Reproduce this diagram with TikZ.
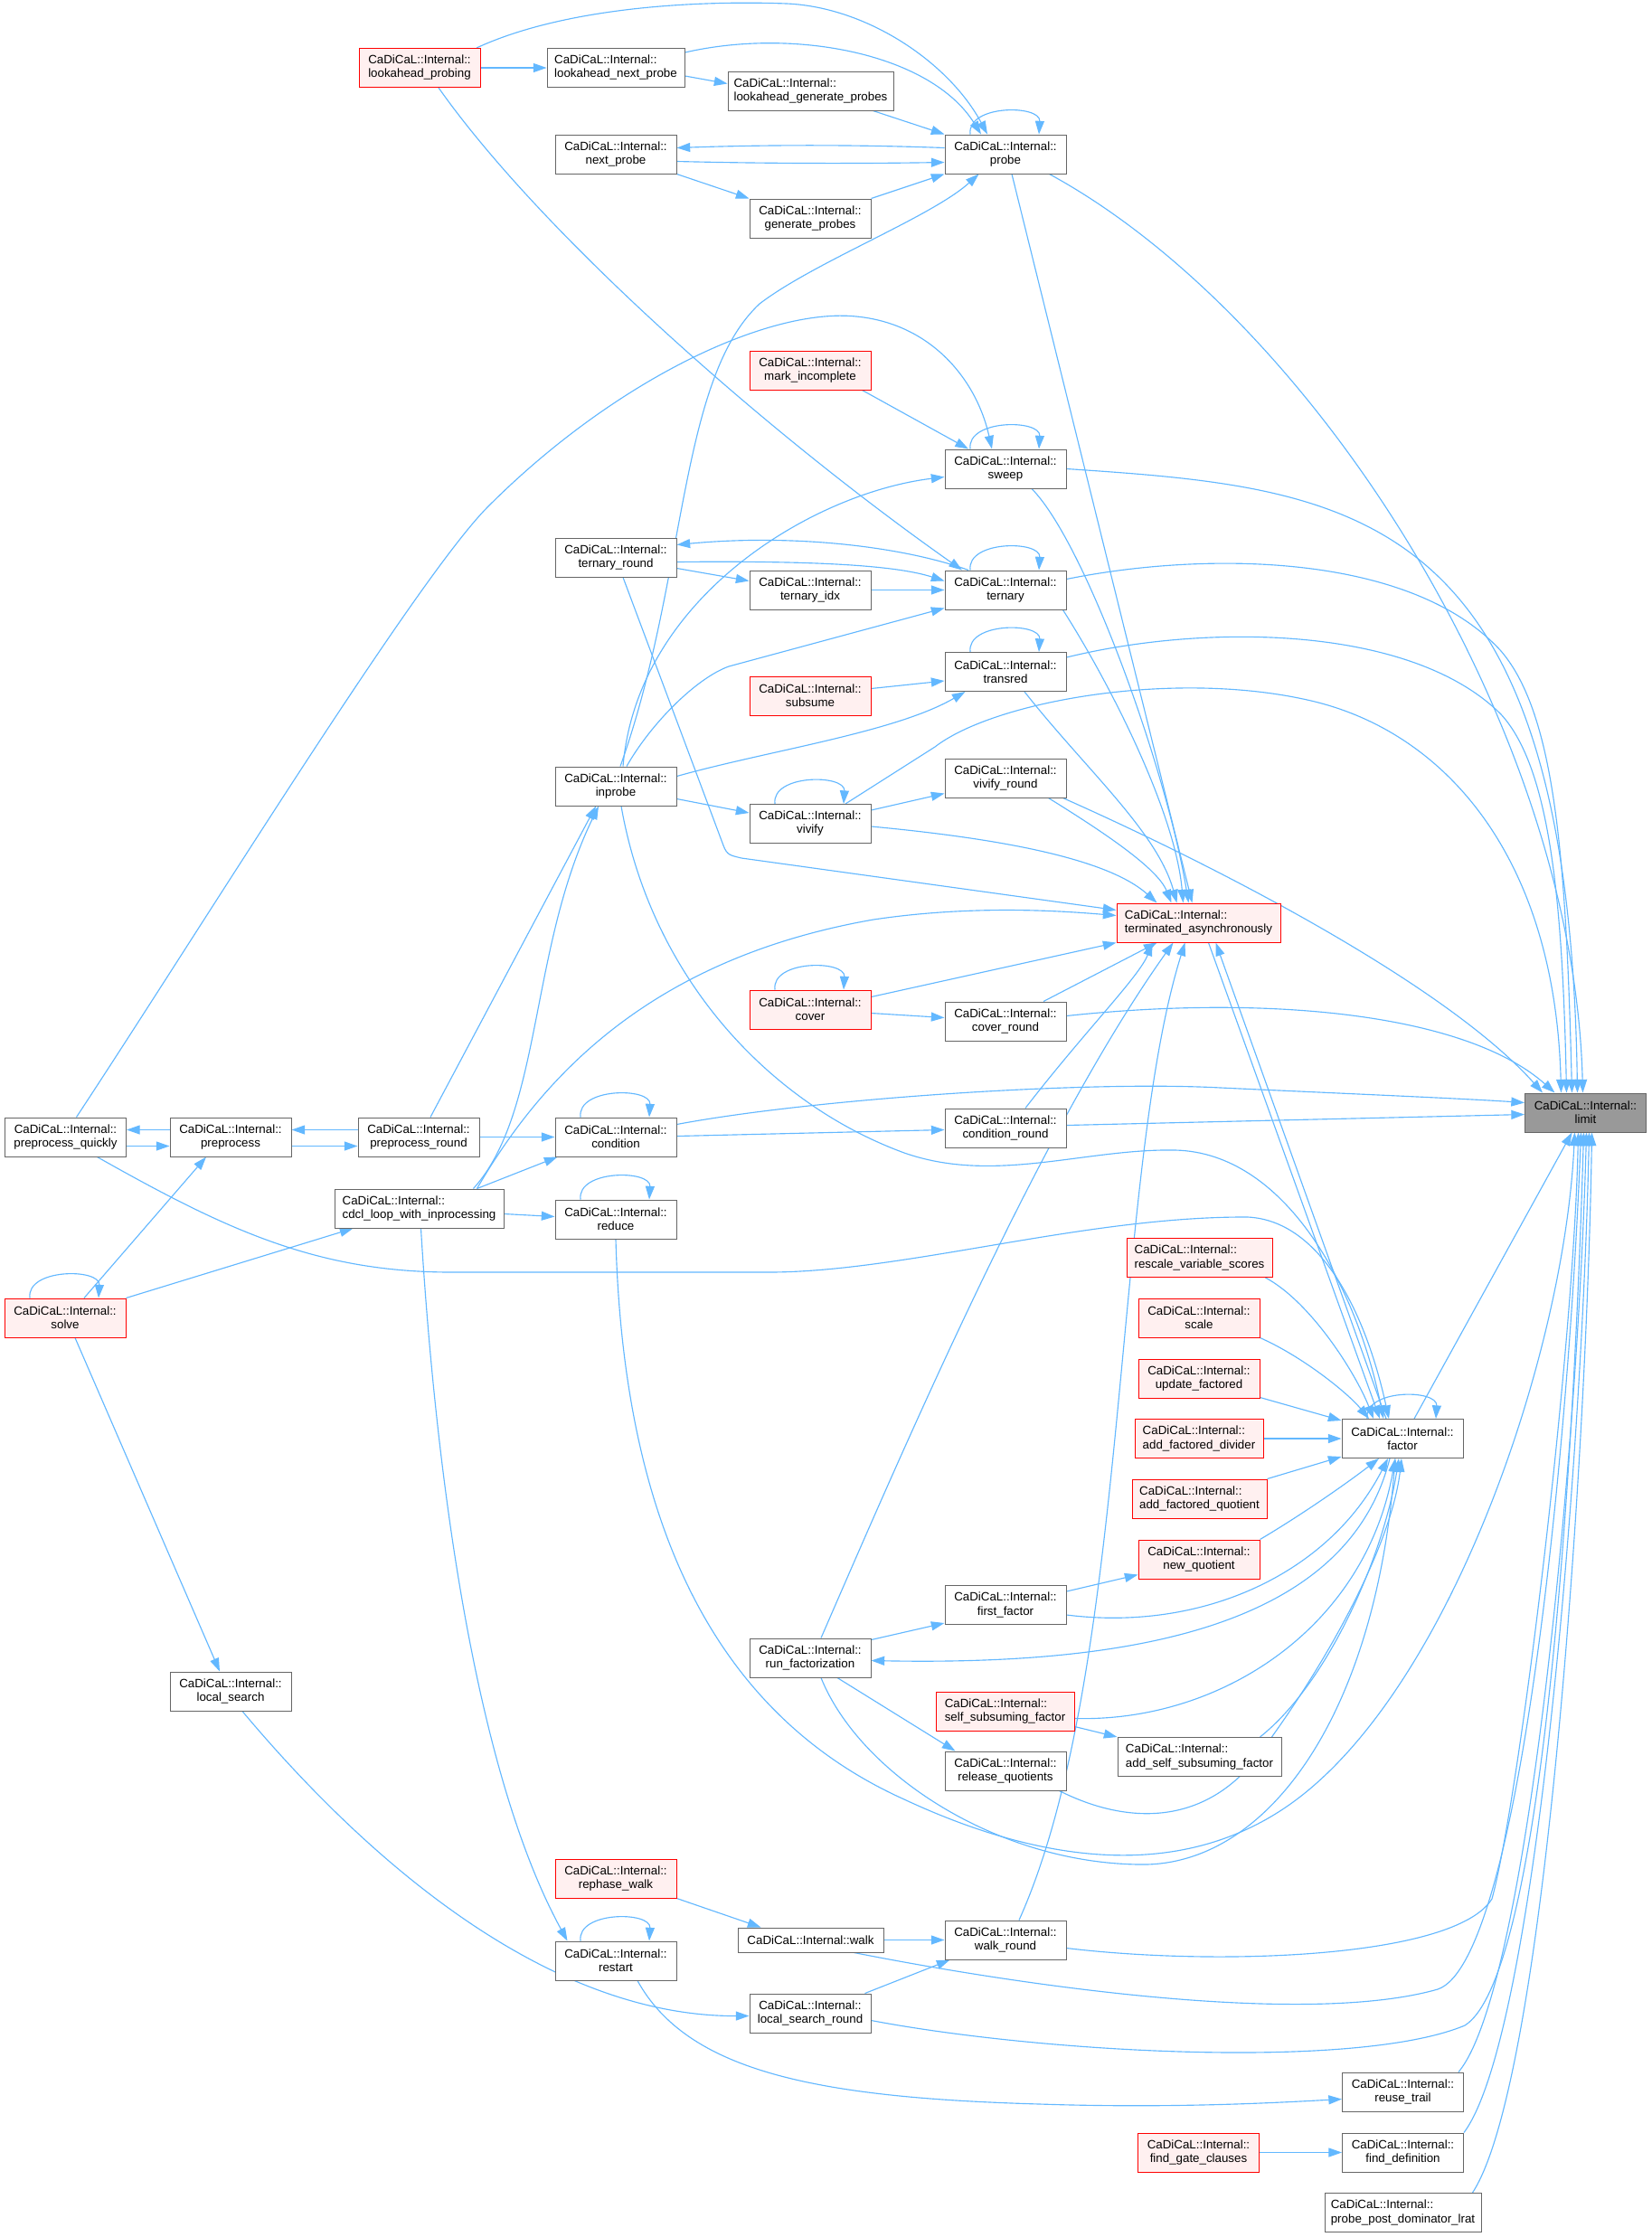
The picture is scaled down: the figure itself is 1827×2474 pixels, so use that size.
\documentclass[tikz,border=0pt]{standalone}
\usepackage{fontspec}
\setmainfont{Liberation Sans}
\usetikzlibrary{arrows.meta,calc}
\definecolor{edgeblue}{HTML}{63B8FF}
\definecolor{ndgray}{HTML}{666666}
\definecolor{redfill}{HTML}{FFF0F0}
\definecolor{limitfill}{HTML}{999999}
\pgfdeclarelayer{bg}
\pgfsetlayers{bg,main}
\tikzset{
  nd/.style={draw=ndgray, fill=white, line width=0.75pt, minimum width=100.5pt, minimum height=32.25pt,
    inner xsep=2pt, inner ysep=1pt, align=center, font=\fontsize{10}{11.3}\selectfont},
  rd/.style={nd, draw=red, fill=redfill},
  nl/.style={align=left},
  cedge/.style={draw=edgeblue, line width=0.85pt, -{Triangle[length=11pt,width=7.5pt]}}
}
\newcommand\loopon[1]{\draw[cedge] ($(#1.north)+(-39,0)$) .. controls +(-4,-33) and +(2,-33) .. ($(#1.north)+(37,0)$);}
\begin{document}
\begin{tikzpicture}[x=0.75pt,y=-0.75pt]
\useasboundingbox (0,0) rectangle (1827,2474);
% nodes
\node[rd] (lp) at (464,75) {CaDiCaL::Internal::\\lookahead\_probing};
\node[nd,minimum width=114pt,nl] (lnp) at (681,75) {CaDiCaL::Internal::\\lookahead\_next\_probe};
\node[nd,minimum width=137.25pt,nl] (lgp) at (896.5,100.5) {CaDiCaL::Internal::\\lookahead\_generate\_probes};
\node[nd] (np) at (681,170.5) {CaDiCaL::Internal::\\next\_probe};
\node[nd] (probe) at (1112,170.5) {CaDiCaL::Internal::\\probe};
\node[nd] (gp) at (896,241.5) {CaDiCaL::Internal::\\generate\_probes};
\node[rd] (mi) at (896,409.5) {CaDiCaL::Internal::\\mark\_incomplete};
\node[nd] (sweep) at (1112,518.5) {CaDiCaL::Internal::\\sweep};
\node[nd] (tr) at (681,616.5) {CaDiCaL::Internal::\\ternary\_round};
\node[nd] (tidx) at (896,652.5) {CaDiCaL::Internal::\\ternary\_idx};
\node[nd] (tern) at (1112,652.5) {CaDiCaL::Internal::\\ternary};
\node[nd] (trans) at (1112,743) {CaDiCaL::Internal::\\transred};
\node[rd] (subs) at (896,769.5) {CaDiCaL::Internal::\\subsume};
\node[nd] (inp) at (681,869.5) {CaDiCaL::Internal::\\inprobe};
\node[nd] (viv) at (896,911) {CaDiCaL::Internal::\\vivify};
\node[nd] (vivr) at (1112,860.5) {CaDiCaL::Internal::\\vivify\_round};
\node[rd,minimum width=135.75pt,nl] (ta) at (1325.5,1020.5) {CaDiCaL::Internal::\\terminated\_asynchronously};
\node[rd] (cov) at (896,1116.5) {CaDiCaL::Internal::\\cover};
\node[nd] (covr) at (1112,1129.5) {CaDiCaL::Internal::\\cover\_round};
\node[nd,fill=limitfill] (limit) at (1753.5,1230.5) {CaDiCaL::Internal::\\limit};
\node[nd] (ppq) at (72.5,1257.5) {CaDiCaL::Internal::\\preprocess\_quickly};
\node[nd] (pp) at (255,1257.5) {CaDiCaL::Internal::\\preprocess};
\node[nd] (ppr) at (463,1257.5) {CaDiCaL::Internal::\\preprocess\_round};
\node[nd] (cond) at (681,1257.5) {CaDiCaL::Internal::\\condition};
\node[nd] (condr) at (1112,1247.5) {CaDiCaL::Internal::\\condition\_round};
\node[nd,minimum width=140.25pt,nl] (cdcl) at (463.5,1336.5) {CaDiCaL::Internal::\\cdcl\_loop\_with\_inprocessing};
\node[nd] (red) at (681,1348.5) {CaDiCaL::Internal::\\reduce};
\node[rd] (solve) at (72,1457.5) {CaDiCaL::Internal::\\solve};
\node[rd,minimum width=120.75pt,nl] (rvs) at (1326.5,1391) {CaDiCaL::Internal::\\rescale\_variable\_scores};
\node[rd] (scale) at (1326,1457.5) {CaDiCaL::Internal::\\scale};
\node[rd] (uf) at (1326,1524.5) {CaDiCaL::Internal::\\update\_factored};
\node[rd,minimum width=106.5pt,nl] (afd) at (1326,1591) {CaDiCaL::Internal::\\add\_factored\_divider};
\node[nd] (factor) at (1551,1591) {CaDiCaL::Internal::\\factor};
\node[rd,minimum width=111.75pt,nl] (afq) at (1326.5,1657.5) {CaDiCaL::Internal::\\add\_factored\_quotient};
\node[rd] (nq) at (1326,1724.5) {CaDiCaL::Internal::\\new\_quotient};
\node[nd] (ff) at (1112,1775) {CaDiCaL::Internal::\\first\_factor};
\node[nd] (rf) at (896,1833.5) {CaDiCaL::Internal::\\run\_factorization};
\node[nd] (ls) at (255,1870.5) {CaDiCaL::Internal::\\local\_search};
\node[rd,minimum width=114.75pt,nl] (ssf) at (1111.5,1892.5) {CaDiCaL::Internal::\\self\_subsuming\_factor};
\node[nd,minimum width=135.75pt,nl] (assf) at (1326.5,1943) {CaDiCaL::Internal::\\add\_self\_subsuming\_factor};
\node[nd] (rq) at (1112,1958.5) {CaDiCaL::Internal::\\release\_quotients};
\node[rd] (rw) at (681,2077.5) {CaDiCaL::Internal::\\rephase\_walk};
\node[nd,minimum width=120.75pt,minimum height=20.25pt] (walk) at (896.5,2145.5) {CaDiCaL::Internal::walk};
\node[nd] (wr) at (1112,2145.5) {CaDiCaL::Internal::\\walk\_round};
\node[nd] (rst) at (681,2168.5) {CaDiCaL::Internal::\\restart};
\node[nd] (lsr) at (896,2226.5) {CaDiCaL::Internal::\\local\_search\_round};
\node[nd] (rt) at (1551.5,2313.5) {CaDiCaL::Internal::\\reuse\_trail};
\node[rd] (fgc) at (1325.5,2380.5) {CaDiCaL::Internal::\\find\_gate\_clauses};
\node[nd] (fd) at (1551.5,2380.5) {CaDiCaL::Internal::\\find\_definition};
\node[nd,minimum width=129.75pt,nl] (ppdl) at (1551.5,2447) {CaDiCaL::Internal::\\probe\_post\_dominator\_lrat};

\begin{pgfonlayer}{bg}
\fill[white] (0,0) rectangle (1827,2474);
% top
\draw[cedge] (lp.east) -- (lnp.west);
\draw[cedge] ($(lnp.east)+(0,9)$) -- ($(lgp.west)+(0,-8)$);
\draw[cedge] ($(lnp.north east)+(0,5)$) .. controls (880,30) and (1030,60) .. ($(probe.north)+(-27,0)$);
\draw[cedge] ($(lp.north)+(63,0)$) .. controls (620,10) and (760,0) .. (870,4) .. controls (960,8) and (1050,70) .. ($(probe.north)+(-20,0)$);
\draw[cedge] ($(lgp.south)+(69,0)$) -- (probe.north west);
\draw[cedge] ($(probe.west)+(0,-7)$) .. controls (950,160) and (850,160) .. ($(np.east)+(0,-7)$);
\draw[cedge] ($(np.east)+(0,8)$) .. controls (850,181) and (950,181) .. ($(probe.west)+(0,9)$);
\draw[cedge] (np.south east) -- (gp.north west);
\draw[cedge] (gp.north east) -- (probe.south west);
\loopon{probe}
\draw[cedge] ($(probe.south east)+(-19,0)$) .. controls (1450,350) and (1740,800) .. ($(limit.north)+(-3,0)$);
\draw[cedge] ($(probe.south)+(7,0)$) -- ($(ta.north)+(-7,0)$);
% sweep
\draw[cedge] ($(mi.south east)+(-10,0)$) -- ($(sweep.north)+(-41,0)$);
\draw[cedge] ($(ppq.north)+(12,0)$) .. controls (220,1030) and (460,640) .. (540,560) .. controls (680,420) and (850,340) .. (947,350) .. controls (1030,358) and (1080,420) .. ($(sweep.north)+(-15,0)$);
\loopon{sweep}
\draw[cedge] ($(inp.north)+(8,0)$) .. controls (705,660) and (900,545) .. ($(sweep.west)+(0,9)$);
\draw[cedge] (sweep.east) .. controls (1500,540) and (1735,560) .. ($(limit.north)+(-9,0)$);
\draw[cedge] ($(sweep.south)+(29,0)$) .. controls (1200,600) and (1290,850) .. ($(ta.north)+(-11,0)$);
% ternary
\draw[cedge] ($(tern.north)+(-41,0)$) .. controls (1000,605) and (880,590) .. ($(tr.east)+(0,-14)$);
\draw[cedge] ($(tr.east)+(0,5)$) .. controls (900,620) and (990,625) .. ($(tern.west)+(0,-10)$);
\draw[cedge] ($(tr.east)+(0,12)$) -- ($(tidx.west)+(0,-10)$);
\draw[cedge] (tidx.east) -- (tern.west);
\draw[cedge] ($(inp.north)+(12,0)$) .. controls (720,800) and (770,750) .. (806,737) -- ($(tern.south west)+(0,-2)$);
\draw[cedge] ($(lp.south)+(21,0)$) .. controls (600,260) and (850,480) .. ($(tern.north)+(-48,0)$);
\loopon{tern}
\draw[cedge] ($(tern.east)+(0,-12)$) .. controls (1330,610) and (1560,610) .. (1660,720) .. controls (1720,790) and (1732,950) .. ($(limit.north)+(-15,0)$);
\draw[cedge] ($(tern.south east)+(-4,0)$) .. controls (1230,760) and (1300,900) .. ($(ta.north)+(-17,0)$);
% transred
\loopon{trans}
\draw[cedge] ($(subs.east)+(0,-8)$) -- ($(trans.west)+(0,10)$);
\draw[cedge] ($(inp.east)+(0,-11)$) .. controls (850,830) and (990,810) .. ($(trans.south west)+(23,0)$);
\draw[cedge] ($(trans.east)+(0,-16)$) .. controls (1330,690) and (1560,690) .. (1660,790) .. controls (1715,850) and (1728,1000) .. ($(limit.north)+(-21,0)$);
\draw[cedge] ($(trans.south)+(21,0)$) .. controls (1200,850) and (1280,920) .. ($(ta.north)+(-24,0)$);
% vivify
\loopon{viv}
\draw[cedge] ($(inp.east)+(0,14)$) -- ($(viv.west)+(0,-12)$);
\draw[cedge] ($(viv.east)+(0,-15)$) -- ($(vivr.west)+(0,17)$);
\draw[cedge] ($(viv.east)+(0,3)$) .. controls (1080,925) and (1220,945) .. ($(ta.north)+(-46,0)$);
\draw[cedge] ($(viv.north)+(39,0)$) -- (1034,826) .. controls (1100,775) and (1300,740) .. (1450,775) .. controls (1600,810) and (1720,950) .. ($(limit.north)+(-27,0)$);
\draw[cedge] ($(vivr.south east)+(-4,0)$) .. controls (1350,960) and (1600,1090) .. ($(limit.north west)+(20,0)$);
\draw[cedge] ($(vivr.south east)+(-20,0)$) .. controls (1220,920) and (1280,960) .. ($(ta.north)+(-30,0)$);
% terminated_asynchronously
\draw[cedge] ($(tr.south)+(8,0)$) -- (800,935) .. controls (804,946) and (808,946) .. (820,949) -- ($(ta.west)+(0,-14)$);
\draw[cedge] ($(cdcl.north east)+(-30,0)$) .. controls (600,1190) and (720,1060) .. (966,1017) .. controls (1080,1000) and (1180,1008) .. ($(ta.west)+(0,-8)$);
\draw[cedge] ($(cov.east)+(0,-14)$) -- (ta.south west);
\draw[cedge] ($(covr.north)+(42,0)$) -- ($(ta.south)+(-46,0)$);
\draw[cedge] ($(condr.north)+(22,0)$) .. controls (1200,1140) and (1260,1080) .. ($(ta.south)+(-51,0)$);
\draw[cedge] ($(rf.north)+(12,0)$) .. controls (1000,1600) and (1150,1250) .. ($(ta.south)+(-28,0)$);
\draw[cedge] ($(wr.north)+(15,0)$) .. controls (1250,1850) and (1230,1300) .. ($(ta.south)+(-15,0)$);
\draw[cedge] ($(ta.south)+(11,0)$) -- ($(factor.north)+(-25,0)$);
\draw[cedge] ($(factor.north)+(-18,0)$) -- ($(ta.south)+(19,0)$);
% cover
\loopon{cov}
\draw[cedge] ($(cov.east)+(0,4)$) -- ($(covr.west)+(0,-4)$);
\draw[cedge] ($(covr.east)+(0,-6)$) .. controls (1400,1100) and (1620,1120) .. ($(limit.north)+(-34,0)$);
% condition
\loopon{cond}
\draw[cedge] (ppr.east) -- (cond.west);
\draw[cedge] ($(cdcl.north east)+(-30,0)$) -- ($(cond.south west)+(3,0)$);
\draw[cedge] ($(cond.east)+(0,-1)$) -- ($(condr.west)+(0,2)$);
\draw[cedge] ($(cond.east)+(0,-14)$) .. controls (900,1215) and (1200,1195) .. (1350,1203) .. controls (1500,1210) and (1620,1215) .. ($(limit.west)+(0,-11)$);
\draw[cedge] ($(condr.east)+(0,-3)$) -- ($(limit.west)+(0,2)$);
% preprocess
\draw[cedge] ($(pp.west)+(0,-8)$) -- ($(ppq.east)+(0,-8)$);
\draw[cedge] ($(ppq.east)+(0,10)$) -- ($(pp.west)+(0,10)$);
\draw[cedge] ($(ppr.west)+(0,-8)$) -- ($(pp.east)+(0,-8)$);
\draw[cedge] ($(pp.east)+(0,10)$) -- ($(ppr.west)+(0,10)$);
\draw[cedge] ($(solve.north)+(21,0)$) -- ($(pp.south)+(-27,0)$);
\loopon{solve}
\draw[cedge] (solve.north east) -- ($(cdcl.south west)+(21,0)$);
\draw[cedge] ($(solve.south)+(11,0)$) -- ($(ls.north)+(-12,0)$);
\draw[cedge] ($(ppq.south)+(35,0)$) .. controls (250,1360) and (350,1407) .. (500,1407) -- (850,1407) .. controls (1000,1407) and (1200,1345) .. (1380,1346) .. controls (1460,1350) and (1510,1450) .. ($(factor.north)+(-15,0)$);
\draw[cedge] ($(inp.south)+(6,0)$) .. controls (720,1080) and (850,1220) .. (1000,1275) .. controls (1100,1310) and (1200,1270) .. (1300,1272) .. controls (1420,1275) and (1500,1420) .. ($(factor.north)+(-21,0)$);
\draw[cedge] ($(cdcl.north east)+(-34,0)$) .. controls (600,1230) and (585,1050) .. ($(inp.south)+(-19,0)$);
\draw[cedge] ($(ppr.north)+(13,0)$) -- ($(inp.south)+(-22,0)$);
\draw[cedge] ($(inp.north)+(5,0)$) .. controls (760,640) and (750,420) .. (840,336) .. controls (900,290) and (1030,240) .. ($(probe.south west)+(38,0)$);
% reduce, cdcl
\draw[cedge] ($(cdcl.east)+(0,6)$) -- ($(red.west)+(0,-3)$);
\draw[cedge] ($(cdcl.south)+(2,0)$) .. controls (480,1600) and (520,1950) .. ($(rst.north west)+(14,0)$);
\loopon{red}
\draw[cedge] (red.south) .. controls (690,1700) and (800,1900) .. (1000,1990) .. controls (1150,2060) and (1300,2080) .. (1420,2000) .. controls (1600,1880) and (1730,1500) .. ($(limit.south)+(-12,0)$);
% factor
\draw[cedge] ($(rf.south)+(12,0)$) .. controls (950,1960) and (1100,2060) .. (1260,2062) .. controls (1400,2065) and (1520,1900) .. ($(factor.south)+(-8,0)$);
\draw[cedge] ($(factor.south)+(-14,0)$) .. controls (1490,1800) and (1250,1842) .. ($(rf.east)+(0,3)$);
\draw[cedge] ($(rf.east)+(0,-20)$) -- ($(ff.south west)+(0,-2)$);
\draw[cedge] ($(rf.south)+(30,0)$) -- ($(rq.north west)+(12,0)$);
\draw[cedge] ($(ff.east)+(0,-15)$) -- ($(nq.south west)+(0,-5)$);
\draw[cedge] ($(ff.east)+(0,11)$) .. controls (1330,1805) and (1470,1740) .. ($(factor.south)+(-16,0)$);
\draw[cedge] ($(nq.east)+(0,-22)$) .. controls (1440,1675) and (1490,1640) .. ($(factor.south)+(-26,0)$);
\draw[cedge] (afq.north east) -- ($(factor.west)+(0,20)$);
\draw[cedge] (afd.east) -- (factor.west);
\draw[cedge] ($(uf.east)+(0,21)$) -- ($(factor.west)+(0,-20)$);
\draw[cedge] (scale.south east) .. controls (1440,1500) and (1490,1540) .. ($(factor.north)+(-37,0)$);
\draw[cedge] ($(rvs.south east)+(-8,0)$) .. controls (1450,1440) and (1500,1520) .. ($(factor.north)+(-32,0)$);
\loopon{factor}
\draw[cedge] ($(factor.north)+(13,0)$) -- ($(limit.south)+(-15,0)$);
\draw[cedge] ($(ssf.east)+(0,8)$) .. controls (1350,1905) and (1510,1800) .. ($(factor.south)+(-8,0)$);
\draw[cedge] ($(ssf.east)+(0,17)$) -- (assf.north west);
\draw[cedge] ($(assf.north)+(67,0)$) .. controls (1470,1860) and (1530,1720) .. ($(factor.south)+(-4,0)$);
\draw[cedge] ($(rq.south east)+(-8,0)$) .. controls (1250,2020) and (1340,2020) .. (1400,1930) .. controls (1480,1820) and (1540,1700) .. ($(factor.south)+(-1,0)$);
% bottom
\draw[cedge] (rw.south east) -- ($(walk.north west)+(26,0)$);
\draw[cedge] (walk.east) -- (wr.west);
\draw[cedge] ($(lsr.north east)+(-7,0)$) -- ($(wr.south west)+(6,0)$);
\draw[cedge] ($(ls.south)+(13,0)$) .. controls (400,2050) and (600,2230) .. ($(lsr.west)+(0,3)$);
\loopon{rst}
\draw[cedge] ($(rst.south)+(24,0)$) .. controls (760,2290) and (900,2320) .. (1150,2327) .. controls (1300,2332) and (1420,2325) .. ($(rt.west)+(0,8)$);
\draw[cedge] ($(wr.east)+(0,9)$) .. controls (1350,2175) and (1610,2165) .. (1650,2100) .. controls (1680,1990) and (1740,1500) .. ($(limit.south)+(-8,0)$);
\draw[cedge] ($(walk.south)+(48,0)$) .. controls (1150,2200) and (1450,2240) .. (1590,2200) .. controls (1680,2170) and (1735,1600) .. ($(limit.south)+(-5,0)$);
\draw[cedge] ($(lsr.east)+(0,8)$) .. controls (1150,2270) and (1500,2290) .. (1620,2240) .. controls (1700,2190) and (1738,1700) .. ($(limit.south)+(-2,0)$);
\draw[cedge] ($(rt.north east)+(-6,0)$) .. controls (1690,2200) and (1745,1600) .. ($(limit.south)+(1,0)$);
\draw[cedge] (fd.north east) .. controls (1700,2250) and (1750,1600) .. ($(limit.south)+(4,0)$);
\draw[cedge] ($(ppdl.north east)+(-10,0)$) .. controls (1710,2300) and (1755,1600) .. ($(limit.south)+(7,0)$);
\draw[cedge] (fgc.east) -- (fd.west);
\end{pgfonlayer}
\end{tikzpicture}
\end{document}
